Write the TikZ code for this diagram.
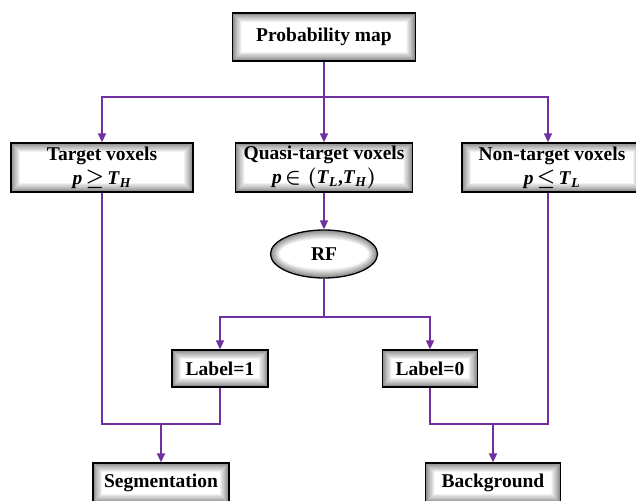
\documentclass[tikz,border=0pt]{standalone}
\usepackage{fontspec}
\setmainfont{Liberation Serif}
\usetikzlibrary{arrows.meta,shapes.geometric,calc}
\definecolor{flowpurple}{RGB}{112,48,160}
\tikzset{
  glowrect/.style={path picture={
    \foreach \k in {0,...,17}{
      \pgfmathsetmacro\shadeval{max(0,46-2.7*\k)}
      \fill[black!\shadeval] ([shift={(\k*0.55pt,\k*0.55pt)}]path picture bounding box.south west)
        rectangle ([shift={(-\k*0.55pt,-\k*0.55pt)}]path picture bounding box.north east);
    }}},
  glowoval/.style={path picture={
    \foreach \k in {0,...,17}{
      \pgfmathsetmacro\shadeval{max(0,46-2.7*\k)}
      \fill[black!\shadeval] (path picture bounding box.center)
        ellipse [x radius={53.5pt-\k*0.55pt}, y radius={24pt-\k*0.55pt}];
    }}},
  box/.style={draw=black, line width=1.3pt, glowrect, minimum height=48pt, align=center, inner sep=2pt,
    font=\fontsize{19.5}{23}\selectfont\bfseries},
  oval/.style={draw=black, line width=1.3pt, ellipse, glowoval, inner sep=0pt,
    font=\fontsize{19.5}{23}\selectfont\bfseries},
  line/.style={draw=flowpurple, line width=1.6pt},
  arr/.style={line, -{Triangle[width=8pt,length=9pt]}}
}
\newcommand\vi[1]{\textit{#1}}
\begin{document}
\begin{tikzpicture}[x=1pt,y=-1pt]
\clip (0,0) rectangle (636,500);
\fill[white] (0,0) rectangle (636,500);
\node[box, minimum width=183pt] (prob) at (324,37) {Probability map};
\node[box, minimum width=182pt, minimum height=49pt] (target) at (102,167.5) {Target voxels\\[1pt]\vi{p}\,{\boldmath$\geq$}\,\vi{T}\textsubscript{\vi{H}}};
\node[box, minimum width=177pt, minimum height=49pt] (quasi) at (324,167.5) {Quasi-target voxels\\[1pt]\vi{p}\,{\boldmath$\in\bigl($}\vi{T}\textsubscript{\vi{L}},\vi{T}\textsubscript{\vi{H}}{\boldmath$\bigr)$}};
\node[box, minimum width=180pt, minimum height=49pt] (nontarget) at (552,167.5) {Non-target voxels\\[1pt]\vi{p}\,{\boldmath$\leq$}\,\vi{T}\textsubscript{\vi{L}}};
\node[oval, minimum width=107pt, minimum height=48pt] (rf) at (324,254) {RF};
\node[box, minimum width=96pt, minimum height=37pt] (label1) at (220,368.5) {Label=1};
\node[box, minimum width=95pt, minimum height=37pt] (label0) at (430,368.5) {Label=0};
\node[box, minimum width=136pt, minimum height=40pt] (seg) at (161,483) {Segmentation};
\node[box, minimum width=135pt, minimum height=40pt] (bg) at (493,483) {Background};
\coordinate (j1) at (324,97);
\coordinate (j2) at (324,317);
\coordinate (j3) at (161,424);
\coordinate (j4) at (493,424);
\draw[arr] (prob.south) -- (quasi.north);
\draw[arr] (j1) -| (target.north);
\draw[arr] (j1) -| ([xshift=-4pt]nontarget.north);
\draw[arr] (quasi.south) -- (rf.north);
\draw[line] (rf.south) -- (j2);
\draw[arr] (j2) -| (label1.north);
\draw[arr] (j2) -| (label0.north);
\draw[line] (target.south) |- (j3);
\draw[line] (label1.south) |- (j3);
\draw[arr] (j3) -- (seg.north);
\draw[line] ([xshift=-4pt]nontarget.south) |- (j4);
\draw[line] (label0.south) |- (j4);
\draw[arr] (j4) -- (bg.north);
\end{tikzpicture}
\end{document}
